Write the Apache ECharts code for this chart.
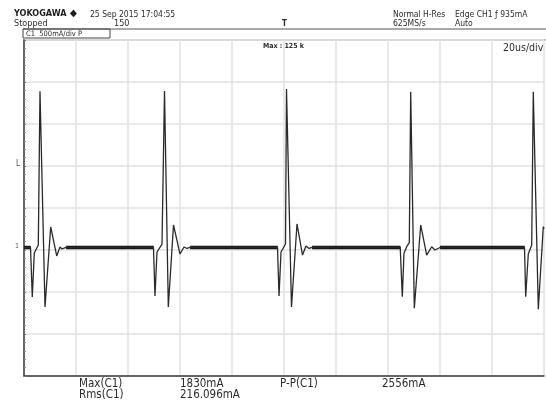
<!DOCTYPE html>
<html>
<head>
<meta charset="utf-8">
<script src="https://cdn.jsdelivr.net/npm/echarts@6/dist/echarts.min.js"></script>
<style>html,body{margin:0;padding:0;background:#fff;}#c{width:546px;height:400px;}</style>
</head>
<body>
<div id="c"></div>
<script>
var timeUs = [0, 2.5, 2.69, 3.19, 3.96, 4.23, 5.5, 6.15, 8.08, 10.27, 12.58, 13.85, 14.6, 16.15, 30,
  49.8, 50.0, 50.38, 51.15, 51.54, 53.08, 54.04, 55.5, 57.5, 60.0, 61.54, 62.69, 63.85, 80,
  97.5, 97.69, 98.08, 98.85, 99.23, 100.58, 100.96, 102.88, 105.0, 107.12, 108.46, 109.62, 110.77, 128,
  144.7, 144.88, 145.5, 146.15, 147.19, 148.19, 148.73, 150.12, 152.58, 154.88, 156.81, 158.08, 160.0, 176,
  192.5, 192.7, 192.96, 193.96, 195.27, 195.88, 197.81, 199.73, 200];
var currentMa = [30, 30, 24, -559, -36, -36, 60, 1890, -679, 274, -71, 36, 12, 30, 30,
  30, 24, -548, -24, -12, 71, 1893, -679, 298, -48, 36, 18, 30, 30,
  30, 24, -548, -24, -12, 71, 1917, -679, 310, -60, 48, 18, 30, 30,
  30, 20, -556, -39, 39, 87, 1885, -694, 298, -60, 39, 0, 30, 30,
  30, 24, -556, -48, 60, 1885, -706, 278, 250];
// flat (noisy, thick) baseline stretches between pulses
var flatStartUs = [0, 16.2, 63.9, 110.8, 160.0];
var flatEndUs = [2.6, 49.9, 97.6, 144.8, 192.6];
var flatLevelMa = 30;

var traceData = timeUs.map(function (t, i) { return [t, currentMa[i]]; });
var series = [];
flatStartUs.forEach(function (s, i) {
  series.push({ type: 'line', data: [[s, flatLevelMa], [flatEndUs[i], flatLevelMa]], symbol: 'none',
    lineStyle: { color: '#141414', width: 3.4 }, silent: true, animation: false, z: 3 });
});
series.push({ type: 'line', data: traceData, symbol: 'none',
  lineStyle: { color: '#2a2a2a', width: 1.3 }, silent: true, animation: false, z: 4 });

var F = "'Liberation Sans Narrow','DejaVu Sans Condensed',sans-serif";
function txt(x, y, s, size, bold, color) {
  return { type: 'text', x: x, y: y, silent: true, z: 10,
    style: { text: s, font: (bold ? 'bold ' : '') + size + 'px ' + F, fill: color || '#2b2b2b', verticalAlign: 'top', align: 'left' } };
}

var chart = echarts.init(document.getElementById('c'), null, { renderer: 'canvas' });
chart.setOption({
  backgroundColor: '#ffffff',
  animation: false,
  grid: { left: 24, top: 40, width: 520, height: 336, show: false },
  xAxis: { type: 'value', min: 0, max: 200, interval: 20,
    axisLine: { show: true, onZero: false, lineStyle: { color: '#3a3a3a', width: 1.5 } },
    axisTick: { show: false }, axisLabel: { show: false },
    splitLine: { show: true, lineStyle: { color: '#e2e2e2', width: 1.5 } } },
  yAxis: { type: 'value', min: -1500, max: 2500, interval: 500,
    axisLine: { show: true, onZero: false, lineStyle: { color: '#3a3a3a', width: 1.5 } },
    axisTick: { show: true, inside: true, length: 2, lineStyle: { color: '#777' } },
    minorTick: { show: true, splitNumber: 5, length: 2, lineStyle: { color: '#888' } },
    axisLabel: { show: false },
    splitLine: { show: true, lineStyle: { color: '#e2e2e2', width: 1.5 } } },
  series: series,
  graphic: [
    { type: 'line', silent: true, shape: { x1: 23, y1: 29, x2: 546, y2: 29 }, style: { stroke: '#555', lineWidth: 1 } },
    { type: 'line', silent: true, shape: { x1: 23, y1: 40, x2: 546, y2: 40 }, style: { stroke: '#bcbcbc', lineWidth: 2 } },
    { type: 'rect', silent: true, shape: { x: 23, y: 29, width: 87, height: 9 }, style: { fill: 'none', stroke: '#444', lineWidth: 1 } },
    txt(14, 9, 'YOKOGAWA', 9, true, '#1e1e1e'),
    txt(70, 8, '◆', 10, false, '#1e1e1e'),
    txt(90, 10, '25 Sep 2015 17:04:55', 8.5, false),
    txt(14, 19, 'Stopped', 9, false),
    txt(114, 19, '150', 9, false),
    txt(26, 30, 'C1  500mA/div P', 7.5, false),
    txt(282, 20, 'T', 8, true),
    txt(393, 10, 'Normal H-Res', 8.5, false),
    txt(393, 19, '625MS/s', 8.5, false),
    txt(455, 10, 'Edge CH1 ƒ 935mA', 8.5, false),
    txt(455, 19, 'Auto', 8.5, false),
    txt(263, 43, 'Max : 125 k', 7, true),
    txt(503, 43, '20us/div', 10.5, false),
    txt(15, 243, '1', 7, false, '#555'),
    txt(16, 160, 'L', 8, false, '#555'),
    txt(79, 378, 'Max(C1)', 11.5, false),
    txt(180, 378, '1830mA', 11.5, false),
    txt(280, 378, 'P-P(C1)', 11.5, false),
    txt(382, 378, '2556mA', 11.5, false),
    txt(79, 389, 'Rms(C1)', 11.5, false),
    txt(180, 389, '216.096mA', 11.5, false)
  ]
});
</script>
</body>
</html>
